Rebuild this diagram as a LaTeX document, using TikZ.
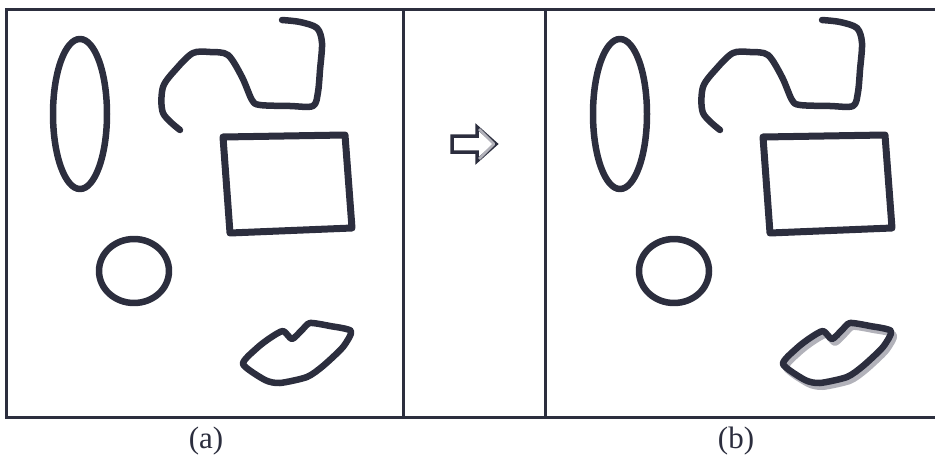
\documentclass[tikz,border=0pt]{standalone}
\usepackage{fontspec}
\setmainfont{Liberation Serif}
\definecolor{ink}{RGB}{44,46,62}
\definecolor{shade}{RGB}{178,178,186}
\begin{document}
\begin{tikzpicture}[x=1pt,y=-1pt,
  stroke/.style={draw=ink,line width=6.5pt,line join=round,line cap=round},
  frame/.style={draw=ink,line width=3pt},
  lbl/.style={font=\fontsize{31}{33}\selectfont,text=ink,inner sep=0pt}]
\useasboundingbox (0,0) rectangle (935,460);
% frame and dividers
\draw[frame] (6,10) rectangle (940,417);
\draw[frame] (403,10) -- (403,417);
\draw[frame] (545,10) -- (545,417);
% shapes in both panels
\foreach \dx/\sh in {0/0,540/1}{
  \begin{scope}[shift={(\dx,0)}]
    \draw[stroke] (80,114) ellipse [x radius=27pt, y radius=75pt];
    \draw[stroke] plot[smooth, tension=0.5] coordinates {(282,20) (300,22) (317,28) (322,43) (320,70) (318,92) (313,106) (290,106) (260,105) (252,100) (242,77) (228,55) (210,52) (193,53) (177,68) (163,87) (163,113) (180,130)};
    \draw[stroke,line width=7pt] (223,137) -- (345,135) -- (352,228) -- (230,233) -- cycle;
    \draw[stroke] (134,271) ellipse [x radius=35pt, y radius=32pt];
    \ifnum\sh=1
      \draw[draw=shade,line width=6pt,line join=round,shift={(3,4)}] plot[smooth cycle, tension=0.4] coordinates {(243,364) (257,348) (270,338) (283,331) (292,339) (302,330) (310,323) (330,326) (351,331) (343,347) (323,366) (307,377) (280,383) (265,380)};
    \fi
    \draw[stroke] plot[smooth cycle, tension=0.4] coordinates {(243,364) (257,348) (270,338) (283,331) (292,339) (302,330) (310,323) (330,326) (351,331) (343,347) (323,366) (307,377) (280,383) (265,380)};
  \end{scope}
}
% hollow arrow
\draw[draw=ink,line width=3.5pt,line join=miter] (452,136) -- (477,136) -- (477,127) -- (496,144) -- (477,161) -- (477,152) -- (452,152) -- cycle;
\draw[draw=shade,line width=2.5pt,line join=round] (479,129) -- (494,144) -- (479,159);
% labels
\node[lbl] (la) at (206,441) {(a)};
\node[lbl] (lb) at (736,441) {(b)};
\end{tikzpicture}
\end{document}
